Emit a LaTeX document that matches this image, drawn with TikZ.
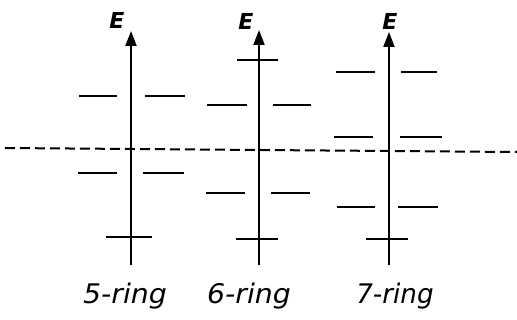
\documentclass[tikz,border=0pt]{standalone}
\usepackage{fontspec}
\newfontfamily\handfont{DejaVu Sans}
\usetikzlibrary{arrows.meta}

\begin{document}
\begin{tikzpicture}[x=1pt, y=-1pt,
  axis/.style={-{Triangle[length=15pt, width=11pt]}, line width=2.2pt},
  lvl/.style={line width=2.5pt},
  fermi/.style={dash pattern=on 10pt off 5pt, line width=2pt},
  elbl/.style={font=\handfont\bfseries\itshape\fontsize{22}{22}\selectfont, inner sep=0pt},
  rlbl/.style={font=\handfont\itshape\fontsize{27}{30}\selectfont, inner sep=0pt, anchor=base}
]
\useasboundingbox (0,0) rectangle (517,320);
\coordinate (b5) at (131,265);
\coordinate (t5) at (131,31);
\coordinate (b6) at (259,265);
\coordinate (t6) at (259,30);
\coordinate (b7) at (389,265);
\coordinate (t7) at (389,32);
\foreach \a/\b in {b5/t5, b6/t6, b7/t7}
  \draw[axis] (\a) -- (\b);
\node[elbl] (e5) at (117,20) {E};
\node[elbl] (e6) at (246,21) {E};
\node[elbl] (e7) at (390,21) {E};
\draw[fermi] (5,148) -- (517,152);
\foreach \xa/\xb/\y in {79/117/96, 145/185/96, 78/117/173, 143/184/173, 106/152/237,
                        237/278/60, 207/247/105, 273/311/105, 206/245/193, 271/310/193, 236/278/239,
                        336/375/72, 401/437/72, 334/373/137, 400/442/137, 337/375/207, 398/438/207, 366/408/239}
  \draw[lvl] (\xa,\y) -- (\xb,\y);
\node[rlbl] (r5) at (125,304) {\scalebox{1.05}[1]{5-ring}};
\node[rlbl] (r6) at (249,304) {\scalebox{1.05}[1]{6-ring}};
\node[rlbl] (r7) at (395,304) {\scalebox{0.97}[1]{7-ring}};
\end{tikzpicture}
\end{document}
